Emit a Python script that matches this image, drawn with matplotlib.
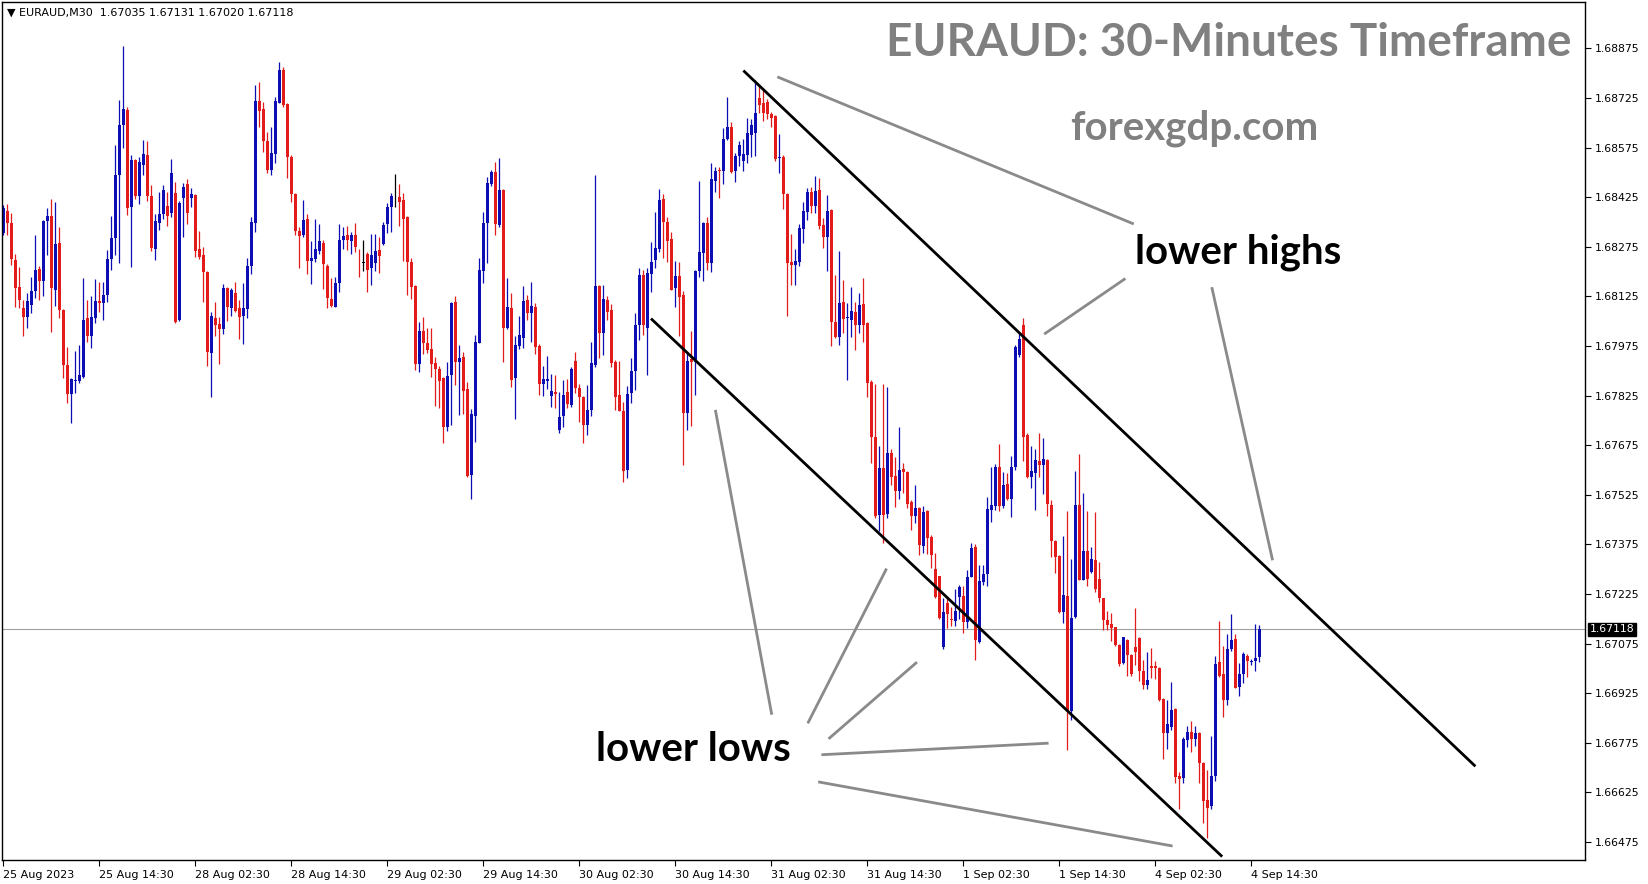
import numpy as np
import matplotlib
matplotlib.use("Agg")
import matplotlib.pyplot as plt
import matplotlib.transforms as mtransforms

# EURAUD M30 candles (bar 0 = 25 Aug 02:30)
opens = [
    1.68316, 1.68384, 1.68346, 1.68236, 1.68153, 1.68089, 1.68064, 1.68100, 1.68140, 1.68207,
    1.68172, 1.68352, 1.68369, 1.68145, 1.68286, 1.68084, 1.67918, 1.67830, 1.67870, 1.67870,
    1.67881, 1.68059, 1.68006, 1.68061, 1.68112, 1.68104, 1.68130, 1.68238, 1.68301, 1.68493,
    1.68644, 1.68689, 1.68394, 1.68536, 1.68429, 1.68522, 1.68553, 1.68429, 1.68268, 1.68348,
    1.68374, 1.68398, 1.68378, 1.68437, 1.68054, 1.68422, 1.68465, 1.68424, 1.68432, 1.68268,
    1.68250, 1.68200, 1.67955, 1.68061, 1.68042, 1.68026, 1.68150, 1.68089, 1.68136, 1.68089,
    1.68066, 1.68086, 1.68217, 1.68348, 1.68717, 1.68691, 1.68596, 1.68507, 1.68556, 1.68711,
    1.68810, 1.68707, 1.68547, 1.68435, 1.68323, 1.68311, 1.68359, 1.68233, 1.68237, 1.68262,
    1.68287, 1.68217, 1.68117, 1.68094, 1.68167, 1.68297, 1.68311, 1.68292, 1.68311, 1.68230,
    1.68227, 1.68253, 1.68212, 1.68227, 1.68265, 1.68282, 1.68343, 1.68396, 1.68425, 1.68425,
    1.68417, 1.68366, 1.68228, 1.68156, 1.67921, 1.68020, 1.67985, 1.67966, 1.67925, 1.67905,
    1.67879, 1.67731, 1.67887, 1.68109, 1.67928, 1.67943, 1.67844, 1.67585, 1.67763, 1.67985,
    1.68202, 1.68346, 1.68465, 1.68500, 1.68341, 1.68447, 1.68030, 1.68089, 1.67878, 1.67976,
    1.68000, 1.68114, 1.68074, 1.68094, 1.67976, 1.67859, 1.67870, 1.67825, 1.67835, 1.67721,
    1.67762, 1.67835, 1.67797, 1.67930, 1.67849, 1.67822, 1.67736, 1.67782, 1.67918, 1.68157,
    1.68014, 1.68114, 1.68084, 1.67928, 1.67827, 1.67777, 1.67600, 1.67832, 1.67898, 1.68039,
    1.68190, 1.68029, 1.68192, 1.68235, 1.68269, 1.68419, 1.68349, 1.68298, 1.68150, 1.68188,
    1.68130, 1.67772, 1.67935, 1.67928, 1.68202, 1.68256, 1.68348, 1.68227, 1.68474, 1.68506,
    1.68503, 1.68600, 1.68637, 1.68503, 1.68550, 1.68533, 1.68553, 1.68613, 1.68620, 1.68724,
    1.68709, 1.68712, 1.68678, 1.68670, 1.68544, 1.68547, 1.68436, 1.68228, 1.68220, 1.68228,
    1.68329, 1.68381, 1.68441, 1.68399, 1.68446, 1.68341, 1.68305, 1.68386, 1.68048, 1.68003,
    1.68107, 1.68060, 1.68053, 1.68079, 1.68040, 1.68102, 1.68045, 1.67867, 1.67701, 1.67464,
    1.67605, 1.67466, 1.67650, 1.67582, 1.67536, 1.67602, 1.67595, 1.67504, 1.67461, 1.67484,
    1.67370, 1.67477, 1.67396, 1.67301, 1.67279, 1.67064, 1.67199, 1.67150, 1.67144, 1.67217,
    1.67219, 1.67141, 1.67277, 1.67368, 1.67081, 1.67260, 1.67287, 1.67479, 1.67492, 1.67610,
    1.67491, 1.67557, 1.67511, 1.67610, 1.67948, 1.68040, 1.67706, 1.67580, 1.67592, 1.67628,
    1.67616, 1.67631, 1.67495, 1.67386, 1.67340, 1.67170, 1.67218, 1.66870, 1.67155, 1.67493,
    1.67268, 1.67354, 1.67293, 1.67328, 1.67271, 1.67212, 1.67147, 1.67135, 1.67124, 1.67071,
    1.67016, 1.67087, 1.67041, 1.67064, 1.67092, 1.66991, 1.66950, 1.67007, 1.67007, 1.67000,
    1.66909, 1.66806, 1.66824, 1.66877, 1.66675, 1.66670, 1.66783, 1.66807, 1.66786, 1.66804,
    1.66715, 1.66602, 1.66585, 1.66675, 1.67020, 1.66983, 1.66904, 1.67058, 1.67088, 1.66945,
    1.66982, 1.67038, 1.67020, 1.67022, 1.67035,
]
highs = [
    1.68400, 1.68405, 1.68377, 1.68254, 1.68215, 1.68115, 1.68135, 1.68185, 1.68311, 1.68217,
    1.68356, 1.68392, 1.68420, 1.68409, 1.68336, 1.68086, 1.67971, 1.67878, 1.67960, 1.67979,
    1.68182, 1.68115, 1.68125, 1.68177, 1.68170, 1.68170, 1.68264, 1.68367, 1.68583, 1.68719,
    1.68881, 1.68699, 1.68553, 1.68540, 1.68548, 1.68598, 1.68596, 1.68462, 1.68374, 1.68441,
    1.68462, 1.68441, 1.68541, 1.68472, 1.68415, 1.68469, 1.68479, 1.68454, 1.68434, 1.68323,
    1.68273, 1.68203, 1.68079, 1.68107, 1.68064, 1.68163, 1.68152, 1.68150, 1.68170, 1.68114,
    1.68167, 1.68241, 1.68366, 1.68764, 1.68774, 1.68714, 1.68623, 1.68638, 1.68729, 1.68833,
    1.68818, 1.68709, 1.68552, 1.68439, 1.68336, 1.68416, 1.68373, 1.68292, 1.68358, 1.68344,
    1.68297, 1.68222, 1.68182, 1.68185, 1.68344, 1.68336, 1.68339, 1.68321, 1.68346, 1.68267,
    1.68295, 1.68260, 1.68314, 1.68314, 1.68304, 1.68351, 1.68406, 1.68439, 1.68495, 1.68465,
    1.68437, 1.68368, 1.68240, 1.68158, 1.68049, 1.68062, 1.68028, 1.68028, 1.67943, 1.67916,
    1.67882, 1.67928, 1.68109, 1.68126, 1.67978, 1.67958, 1.67867, 1.67784, 1.68008, 1.68240,
    1.68381, 1.68487, 1.68507, 1.68530, 1.68545, 1.68449, 1.68180, 1.68135, 1.68004, 1.68067,
    1.68155, 1.68130, 1.68170, 1.68104, 1.67981, 1.67915, 1.67945, 1.67891, 1.67887, 1.67835,
    1.67873, 1.67875, 1.67913, 1.67958, 1.67859, 1.67824, 1.67857, 1.67986, 1.68492, 1.68160,
    1.68160, 1.68127, 1.68102, 1.67933, 1.67931, 1.67805, 1.67855, 1.67938, 1.68074, 1.68210,
    1.68205, 1.68210, 1.68291, 1.68379, 1.68449, 1.68435, 1.68366, 1.68321, 1.68232, 1.68230,
    1.68140, 1.67953, 1.68019, 1.68204, 1.68474, 1.68351, 1.68366, 1.68528, 1.68515, 1.68516,
    1.68634, 1.68727, 1.68651, 1.68558, 1.68596, 1.68600, 1.68664, 1.68661, 1.68780, 1.68760,
    1.68750, 1.68722, 1.68683, 1.68673, 1.68615, 1.68554, 1.68438, 1.68315, 1.68268, 1.68343,
    1.68411, 1.68454, 1.68457, 1.68490, 1.68482, 1.68361, 1.68431, 1.68388, 1.68191, 1.68262,
    1.68174, 1.68104, 1.68152, 1.68109, 1.68134, 1.68182, 1.68047, 1.67872, 1.67859, 1.67672,
    1.67859, 1.67852, 1.67665, 1.67640, 1.67731, 1.67620, 1.67597, 1.67509, 1.67555, 1.67487,
    1.67491, 1.67479, 1.67403, 1.67348, 1.67281, 1.67214, 1.67214, 1.67185, 1.67239, 1.67252,
    1.67249, 1.67298, 1.67380, 1.67376, 1.67313, 1.67313, 1.67519, 1.67610, 1.67617, 1.67679,
    1.67595, 1.67590, 1.67643, 1.67978, 1.68013, 1.68060, 1.67711, 1.67673, 1.67663, 1.67713,
    1.67696, 1.67633, 1.67510, 1.67388, 1.67342, 1.67399, 1.67475, 1.67331, 1.67596, 1.67649,
    1.67532, 1.67477, 1.67366, 1.67472, 1.67323, 1.67214, 1.67174, 1.67167, 1.67126, 1.67073,
    1.67096, 1.67089, 1.67043, 1.67182, 1.67094, 1.67026, 1.67049, 1.67061, 1.67023, 1.67003,
    1.66911, 1.66904, 1.66958, 1.66879, 1.66688, 1.66794, 1.66826, 1.66841, 1.66826, 1.66807,
    1.66717, 1.66693, 1.66796, 1.67037, 1.67144, 1.67068, 1.67104, 1.67164, 1.67103, 1.67015,
    1.67051, 1.67045, 1.67030, 1.67134, 1.67131,
]
lows = [
    1.68310, 1.68311, 1.68220, 1.68094, 1.68089, 1.68004, 1.68029, 1.68074, 1.68120, 1.68115,
    1.68125, 1.68251, 1.68016, 1.68097, 1.68059, 1.67878, 1.67804, 1.67742, 1.67832, 1.67863,
    1.67878, 1.67987, 1.67968, 1.68044, 1.68077, 1.68054, 1.68107, 1.68205, 1.68251, 1.68225,
    1.68575, 1.68372, 1.68213, 1.68419, 1.68405, 1.68492, 1.68415, 1.68262, 1.68235, 1.68326,
    1.68358, 1.68338, 1.68366, 1.68045, 1.68050, 1.68306, 1.68344, 1.68396, 1.68245, 1.68238,
    1.68109, 1.67916, 1.67820, 1.68005, 1.67921, 1.68011, 1.68052, 1.68066, 1.68079, 1.67995,
    1.67981, 1.68059, 1.68192, 1.68321, 1.68638, 1.68563, 1.68497, 1.68492, 1.68529, 1.68709,
    1.68697, 1.68482, 1.68411, 1.68311, 1.68212, 1.68306, 1.68192, 1.68164, 1.68228, 1.68253,
    1.68146, 1.68089, 1.68094, 1.68092, 1.68137, 1.68267, 1.68265, 1.68253, 1.68260, 1.68185,
    1.68203, 1.68137, 1.68161, 1.68202, 1.68197, 1.68280, 1.68318, 1.68321, 1.68396, 1.68339,
    1.68232, 1.68129, 1.68116, 1.67902, 1.67897, 1.67951, 1.67953, 1.67882, 1.67794, 1.67787,
    1.67683, 1.67719, 1.67736, 1.67857, 1.67766, 1.67769, 1.67580, 1.67512, 1.67686, 1.67983,
    1.68165, 1.68225, 1.68459, 1.68310, 1.68336, 1.67928, 1.68025, 1.67852, 1.67754, 1.67966,
    1.67970, 1.68054, 1.67988, 1.67950, 1.67827, 1.67825, 1.67845, 1.67792, 1.67787, 1.67713,
    1.67729, 1.67787, 1.67792, 1.67834, 1.67746, 1.67683, 1.67706, 1.67762, 1.67911, 1.67938,
    1.67948, 1.68054, 1.67913, 1.67780, 1.67777, 1.67563, 1.67575, 1.67804, 1.67842, 1.67993,
    1.68009, 1.67888, 1.68137, 1.68210, 1.68258, 1.68240, 1.68230, 1.68143, 1.68094, 1.68004,
    1.67614, 1.67721, 1.67733, 1.67827, 1.68185, 1.68172, 1.68205, 1.68200, 1.68442, 1.68422,
    1.68464, 1.68598, 1.68498, 1.68472, 1.68520, 1.68503, 1.68528, 1.68548, 1.68550, 1.68681,
    1.68654, 1.68663, 1.68638, 1.68534, 1.68497, 1.68389, 1.68066, 1.68159, 1.68161, 1.68218,
    1.68287, 1.68356, 1.68378, 1.68376, 1.68329, 1.68270, 1.68202, 1.67976, 1.68000, 1.67978,
    1.68015, 1.67872, 1.68003, 1.67963, 1.68013, 1.67988, 1.67822, 1.67620, 1.67456, 1.67415,
    1.67378, 1.67454, 1.67555, 1.67487, 1.67511, 1.67529, 1.67484, 1.67419, 1.67439, 1.67343,
    1.67348, 1.67345, 1.67303, 1.67214, 1.67148, 1.67060, 1.67121, 1.67128, 1.67128, 1.67148,
    1.67106, 1.67121, 1.67275, 1.67025, 1.67076, 1.67252, 1.67250, 1.67444, 1.67479, 1.67476,
    1.67484, 1.67509, 1.67459, 1.67600, 1.67943, 1.67626, 1.67575, 1.67545, 1.67480, 1.67580,
    1.67528, 1.67461, 1.67338, 1.67288, 1.67167, 1.67137, 1.66754, 1.66843, 1.67152, 1.67266,
    1.67266, 1.67248, 1.67290, 1.67230, 1.67202, 1.67117, 1.67115, 1.67084, 1.67069, 1.67008,
    1.67014, 1.66976, 1.66976, 1.67011, 1.66963, 1.66937, 1.66937, 1.66970, 1.66967, 1.66901,
    1.66725, 1.66755, 1.66814, 1.66654, 1.66574, 1.66654, 1.66763, 1.66748, 1.66765, 1.66654,
    1.66533, 1.66486, 1.66575, 1.66660, 1.66973, 1.66852, 1.66889, 1.67054, 1.66940, 1.66916,
    1.66955, 1.66973, 1.67010, 1.66993, 1.67020,
]
closes = [
    1.68392, 1.68346, 1.68238, 1.68150, 1.68115, 1.68064, 1.68110, 1.68140, 1.68205, 1.68172,
    1.68354, 1.68367, 1.68150, 1.68284, 1.68084, 1.67918, 1.67830, 1.67876, 1.67873, 1.67888,
    1.68054, 1.68006, 1.68064, 1.68112, 1.68104, 1.68130, 1.68238, 1.68301, 1.68493, 1.68644,
    1.68692, 1.68392, 1.68538, 1.68429, 1.68530, 1.68556, 1.68429, 1.68270, 1.68353, 1.68374,
    1.68447, 1.68369, 1.68497, 1.68049, 1.68407, 1.68457, 1.68378, 1.68434, 1.68262, 1.68245,
    1.68200, 1.67958, 1.68066, 1.68039, 1.68027, 1.68150, 1.68094, 1.68145, 1.68082, 1.68064,
    1.68089, 1.68217, 1.68349, 1.68717, 1.68687, 1.68596, 1.68507, 1.68558, 1.68716, 1.68810,
    1.68704, 1.68547, 1.68435, 1.68323, 1.68309, 1.68356, 1.68233, 1.68240, 1.68267, 1.68292,
    1.68222, 1.68119, 1.68096, 1.68167, 1.68297, 1.68308, 1.68295, 1.68311, 1.68275, 1.68228,
    1.68227, 1.68205, 1.68250, 1.68262, 1.68248, 1.68341, 1.68396, 1.68430, 1.68425, 1.68411,
    1.68359, 1.68228, 1.68154, 1.67920, 1.68020, 1.67983, 1.67963, 1.67920, 1.67905, 1.67870,
    1.67731, 1.67884, 1.68104, 1.67928, 1.67938, 1.67840, 1.67583, 1.67769, 1.67988, 1.68205,
    1.68346, 1.68467, 1.68502, 1.68343, 1.68447, 1.68030, 1.68094, 1.67873, 1.67978, 1.68009,
    1.68111, 1.68074, 1.68096, 1.67973, 1.67860, 1.67875, 1.67874, 1.67839, 1.67830, 1.67759,
    1.67827, 1.67800, 1.67906, 1.67847, 1.67822, 1.67736, 1.67782, 1.67925, 1.68157, 1.68014,
    1.68116, 1.68079, 1.67925, 1.67822, 1.67779, 1.67598, 1.67830, 1.67898, 1.68039, 1.68190,
    1.68039, 1.68197, 1.68228, 1.68271, 1.68417, 1.68351, 1.68294, 1.68145, 1.68187, 1.68122,
    1.67772, 1.67930, 1.67928, 1.68202, 1.68258, 1.68348, 1.68227, 1.68479, 1.68505, 1.68503,
    1.68600, 1.68637, 1.68500, 1.68550, 1.68583, 1.68556, 1.68620, 1.68644, 1.68681, 1.68704,
    1.68679, 1.68678, 1.68665, 1.68542, 1.68546, 1.68436, 1.68225, 1.68220, 1.68233, 1.68331,
    1.68383, 1.68441, 1.68399, 1.68443, 1.68339, 1.68305, 1.68383, 1.68048, 1.68003, 1.68104,
    1.68058, 1.68062, 1.68082, 1.68038, 1.68099, 1.68040, 1.67864, 1.67701, 1.67462, 1.67605,
    1.67464, 1.67650, 1.67580, 1.67537, 1.67600, 1.67595, 1.67497, 1.67461, 1.67484, 1.67373,
    1.67474, 1.67393, 1.67343, 1.67217, 1.67151, 1.67170, 1.67166, 1.67146, 1.67174, 1.67245,
    1.67141, 1.67277, 1.67363, 1.67086, 1.67264, 1.67287, 1.67481, 1.67494, 1.67610, 1.67491,
    1.67555, 1.67511, 1.67610, 1.67973, 1.67995, 1.67701, 1.67580, 1.67596, 1.67631, 1.67616,
    1.67633, 1.67497, 1.67386, 1.67338, 1.67170, 1.67223, 1.66870, 1.67152, 1.67495, 1.67268,
    1.67354, 1.67270, 1.67331, 1.67241, 1.67212, 1.67147, 1.67132, 1.67122, 1.67071, 1.67013,
    1.67094, 1.67041, 1.66984, 1.67051, 1.66991, 1.66950, 1.66966, 1.67000, 1.67000, 1.66904,
    1.66804, 1.66832, 1.66874, 1.66672, 1.66666, 1.66786, 1.66809, 1.66788, 1.66804, 1.66713,
    1.66600, 1.66579, 1.66675, 1.67012, 1.66978, 1.66904, 1.67058, 1.67086, 1.66942, 1.66983,
    1.67043, 1.67022, 1.67023, 1.67033, 1.67118,
]

time_labels = ["25 Aug 2023", "25 Aug 14:30", "28 Aug 02:30", "28 Aug 14:30",
               "29 Aug 02:30", "29 Aug 14:30", "30 Aug 02:30", "30 Aug 14:30",
               "31 Aug 02:30", "31 Aug 14:30", "1 Sep 02:30", "1 Sep 14:30",
               "4 Sep 02:30", "4 Sep 14:30"]
last_price = 1.67118

# channel lines (bar index, price)
upper_x = [185.0, 368.0]
upper_y = [1.68808, 1.66704]
lower_x = [161.9, 304.7]
lower_y = [1.68058, 1.66431]

# grey pointer lines
pointers = [
    ((193.5, 1.68789), (282.6, 1.68344)),
    ((260.2, 1.68011), (280.5, 1.68179)),
    ((302.1, 1.68153), (317.3, 1.67327)),
    ((178.0, 1.67782), (192.1, 1.66860)),
    ((220.8, 1.67302), (201.1, 1.66834)),
    ((228.4, 1.67019), (206.3, 1.66787)),
    ((204.5, 1.66739), (261.3, 1.66774)),
    ((203.7, 1.66657), (292.3, 1.66463)),
]

o = np.array(opens)
h = np.array(highs)
l = np.array(lows)
c = np.array(closes)
x = np.arange(len(c))

BULL = "#0d0db4"
BEAR = "#e21b1b"
colors = np.where(np.isclose(o, c, atol=5e-7), "black", np.where(c > o, BULL, BEAR))

W, H = 1649, 884
fig = plt.figure(figsize=(W / 100, H / 100), dpi=100)
ax = fig.add_axes([2 / W, 24 / H, 1583 / W, 858 / H])

ax.vlines(x, l, h, colors=colors, linewidth=0.9)
body_lo = np.minimum(o, c)
body_h = np.maximum(np.abs(c - o), 1.5e-5)
ax.bar(x, body_h, bottom=body_lo, width=0.75, color=colors, linewidth=0)

ax.axhline(last_price, color="#a0a0a0", lw=0.8, zorder=0)

ax.plot(upper_x, upper_y, color="black", lw=2.0, solid_capstyle="butt")
ax.plot(lower_x, lower_y, color="black", lw=2.0, solid_capstyle="butt")
for (x0, y0), (x1, y1) in pointers:
    ax.plot([x0, x1], [y0, y1], color="#8a8a8a", lw=2.0, solid_capstyle="butt")

ax.text(308.6, 1.68258, "lower highs", ha="center", va="center", fontsize=29,
        fontweight="bold", family=["Lato", "DejaVu Sans"], color="black")
ax.text(172.4, 1.66755, "lower lows", ha="center", va="center", fontsize=29,
        fontweight="bold", family=["Lato", "DejaVu Sans"], color="black")

ax.set_xlim(-0.33, 395.4)
ax.set_ylim(1.664207, 1.690153)

yt = np.arange(1.66475, 1.68876, 0.0015)
ax.set_yticks(yt)
ax.set_yticklabels([f"{v:.5f}" for v in yt])
ax.yaxis.tick_right()
ax.tick_params(axis="y", direction="out", length=4, width=0.8, pad=3, labelsize=7.8)

ax.set_xticks(np.arange(len(time_labels)) * 24)
ax.set_xticklabels(time_labels)
for lbl in ax.get_xticklabels():
    lbl.set_ha("left")
ax.tick_params(axis="x", direction="out", length=4, width=0.8, pad=3, labelsize=8)

for sp in ax.spines.values():
    sp.set_color("black")
    sp.set_linewidth(1.0)

trans = mtransforms.blended_transform_factory(ax.transAxes, ax.transData)
ax.text(1.003, last_price, f"{last_price:.5f}", transform=trans, ha="left", va="center",
        color="white", fontsize=7.8,
        bbox=dict(facecolor="black", edgecolor="black", pad=1.2))

fig.text(0.004, 0.986, "\u25bc EURAUD,M30  1.67035 1.67131 1.67020 1.67118",
         fontsize=8, ha="left", va="center", color="black")
fig.text(0.9529, 0.951, "EURAUD: 30-Minutes Timeframe", ha="right", va="center",
         fontsize=33, fontweight="bold", color="#808080", family=["Lato", "DejaVu Sans"])
fig.text(0.7245, 0.855, "forexgdp.com", ha="center", va="center",
         fontsize=29, fontweight="bold", color="#808080", family=["Lato", "DejaVu Sans"])

fig.savefig("out.png", dpi=100)
